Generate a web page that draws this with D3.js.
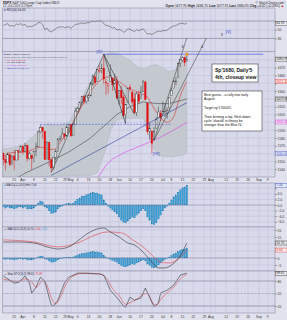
<!DOCTYPE html>
<html><head><meta charset="utf-8">
<script src="https://cdn.jsdelivr.net/npm/d3@7"></script>
<style>
html,body{margin:0;padding:0;background:#e2e2ee;}
svg{display:block;font-family:"Liberation Sans","DejaVu Sans",sans-serif;}
</style></head><body>
<script>
// ---- data (SPX daily, 18 Mar - 17 Jul 2013) ----
var opens  = [1560.7,1552.1,1548.3,1558.7,1545.9,1556.9,1551.7,1563.8,1562.9,1569.2,1562.2,1570.3,1553.7,1558.0,1553.3,1563.1,1568.6,1587.7,1593.3,1588.8,1552.6,1574.6,1552.0,1541.6,1555.3,1562.5,1578.8,1578.9,1585.2,1582.3,1593.6,1597.6,1582.8,1597.6,1614.4,1617.6,1625.5,1632.7,1626.7,1632.1,1633.8,1649.1,1658.1,1652.6,1665.7,1666.2,1669.4,1651.6,1646.7,1652.6,1656.6,1649.1,1652.1,1631.7,1640.7,1632.4,1609.9,1625.3,1644.7,1638.6,1629.9,1612.2,1635.5,1630.6,1639.8,1651.8,1624.6,1588.6,1588.8,1577.5,1592.3,1606.4,1611.1,1609.8,1614.3,1611.5,1618.7,1634.2,1642.9,1652.9,1657.4,1675.3,1679.6,1682.7,1677.9];
var highs  = [1560.7,1557.3,1561.6,1558.7,1557.7,1564.9,1563.9,1564.1,1570.3,1570.6,1573.7,1571.5,1562.3,1558.0,1563.1,1573.9,1589.1,1597.4,1593.3,1588.8,1575.4,1574.6,1554.4,1555.9,1565.6,1579.6,1583.0,1592.6,1585.8,1596.7,1597.6,1597.6,1598.6,1618.5,1619.8,1626.0,1632.8,1635.0,1633.7,1636.0,1651.1,1661.5,1660.5,1667.5,1672.8,1674.9,1687.2,1655.5,1649.8,1674.2,1656.6,1661.9,1659.0,1640.4,1646.5,1635.5,1622.6,1644.4,1648.7,1640.1,1637.7,1639.3,1640.8,1646.5,1654.2,1652.5,1624.6,1599.2,1588.8,1593.8,1606.8,1620.1,1615.9,1626.6,1624.3,1619.0,1632.1,1644.7,1654.2,1657.9,1676.6,1680.2,1684.5,1683.7,1684.8];
var lows   = [1545.1,1538.6,1548.3,1543.6,1545.9,1538.6,1551.7,1551.5,1561.1,1558.5,1562.2,1549.8,1552.4,1539.5,1548.6,1556.4,1568.6,1586.2,1579.0,1552.3,1552.6,1543.7,1536.0,1539.4,1548.2,1562.5,1575.8,1578.9,1577.6,1582.3,1586.5,1581.3,1582.8,1597.6,1614.2,1616.6,1622.7,1623.1,1623.7,1626.7,1633.8,1646.7,1648.6,1652.5,1663.5,1662.7,1648.9,1635.5,1636.9,1652.6,1640.1,1649.1,1630.7,1622.7,1623.6,1608.1,1598.2,1625.3,1639.3,1622.9,1610.9,1608.1,1624.0,1630.3,1639.8,1628.9,1584.3,1577.7,1560.3,1577.1,1592.3,1606.4,1601.3,1609.8,1606.8,1604.6,1614.7,1634.2,1642.9,1647.7,1657.4,1670.6,1677.9,1671.8,1677.9];
var closes = [1552.1,1548.3,1558.7,1545.8,1556.9,1551.7,1563.8,1563.0,1569.2,1562.2,1570.3,1553.7,1560.0,1553.3,1563.1,1568.6,1587.7,1593.4,1588.9,1552.4,1574.6,1552.0,1541.6,1555.3,1562.5,1578.8,1578.8,1585.2,1582.2,1593.6,1597.6,1582.7,1597.6,1614.4,1617.5,1626.0,1632.7,1626.7,1633.7,1633.8,1650.3,1658.8,1650.5,1667.5,1666.3,1669.2,1655.4,1650.5,1649.6,1660.1,1648.4,1654.4,1630.7,1640.4,1631.4,1608.9,1622.6,1643.4,1642.8,1626.1,1612.5,1636.4,1626.7,1639.0,1651.8,1628.9,1588.2,1592.4,1573.1,1588.0,1603.3,1613.2,1606.3,1614.1,1614.1,1615.4,1631.9,1640.5,1652.3,1652.6,1675.0,1680.2,1682.5,1676.3,1680.9];

var maFast = [["3/18",1556],["3/21",1561],["4/2",1562],["4/11",1568],["4/19",1565],["4/25",1578],["5/2",1600],["5/10",1631],["5/17",1650],["5/24",1658],["5/31",1654],["6/7",1644],["6/14",1638],["6/20",1632],["6/25",1618],["6/28",1606],["7/3",1600],["7/9",1607],["7/11",1625],["7/15",1641],["7/17",1652]];
var ma50 = [["3/18",1518],["4/2",1535],["4/16",1548],["4/30",1562],["5/14",1580],["5/22",1595],["5/31",1610],["6/10",1620],["6/18",1626],["6/26",1624],["7/5",1624],["7/17",1630]];
var ma100 = [["5/14",1522],["5/20",1532],["5/23",1545],["5/29",1553],["6/6",1562],["6/17",1570],["6/28",1581],["7/9",1590],["7/17",1600]];
var bbUpper = [["3/18",1566],["3/25",1568],["4/2",1573],["4/9",1585],["4/11",1594],["4/16",1598],["4/23",1596],["4/30",1600],["5/3",1615],["5/8",1632],["5/14",1652],["5/17",1670],["5/22",1684],["5/28",1690],["5/31",1688],["6/5",1684],["6/10",1680],["6/13",1672],["6/18",1668],["6/21",1672],["6/26",1674],["7/1",1670],["7/5",1665],["7/10",1668],["7/15",1680],["7/17",1688]];
var bbLower = [["3/18",1515],["4/2",1528],["4/16",1530],["4/30",1532],["5/14",1532],["5/17",1535],["5/21",1550],["5/23",1566],["5/28",1590],["5/31",1603],["6/5",1605],["6/10",1605],["6/13",1605],["6/18",1606],["6/21",1580],["6/25",1565],["6/27",1558],["7/2",1556],["7/9",1556],["7/15",1558],["7/17",1560]];

var rsiVals = [60,62,64,58,60,58,63,62,64,60,62,56,58,57,60,62,66,67,62,50,54,47,45,49,52,56,56,57,55,56,57,53,58,62,63,64,66,64,66,66,68,70,68,70,70,70,64,60,59,57,54,55,49,51,49,44,47,52,51,48,46,50,48,50,52,46,40,41,39,42,45,47,46,48,48,49,53,56,59,59,63,64,65,63,65];
var macdHist = [-0.7,-1.1,-0.7,-1.1,-1.1,-1.4,-1.1,-0.7,-0.7,-1.1,-0.7,-1.4,-1.4,-1.4,-1.1,-0.4,0.7,1.4,1.1,-0.7,-1.1,-2.1,-2.9,-2.9,-2.5,-1.4,-0.7,-0.4,0.1,0.4,0.7,0.4,0.7,1.4,2.1,2.5,3.2,3.2,3.6,3.9,4.3,4.6,4.3,4.3,3.9,3.6,1.8,0.7,-0.4,-1.1,-1.8,-2.5,-3.2,-4.3,-5.4,-6.1,-6.4,-5.7,-5.0,-4.3,-4.6,-3.6,-2.9,-2.1,-1.4,-2.1,-4.3,-5.4,-6.8,-7.1,-6.4,-5.0,-3.6,-2.1,-1.1,-0.4,0.7,1.8,2.9,3.6,4.6,5.4,6.1,6.4,7.1];
var macdLine = [["3/18",11.4],["3/28",11.4],["4/8",10.7],["4/18",7.1],["4/23",6.4],["4/30",7.9],["5/6",12.1],["5/13",17.9],["5/17",20.7],["5/22",21.4],["5/28",18.6],["6/3",15],["6/7",10.7],["6/12",9.3],["6/17",5.7],["6/20",0.7],["6/24",-2.9],["6/27",-7.1],["7/2",-7.1],["7/8",-5],["7/11",-0.7],["7/15",4.3],["7/17",10.7]];
var macdSignal = [["3/18",12.9],["4/8",11.4],["4/23",7.9],["5/6",10.7],["5/16",16.4],["5/24",18.6],["6/4",17.9],["6/12",12.1],["6/18",7.9],["6/24",2.1],["6/28",-2.9],["7/5",-3.6],["7/11",-0.7],["7/17",5.7]];
var stoK = [["3/18",92],["3/25",75],["3/27",77],["4/2",92],["4/4",75],["4/5",51],["4/9",65],["4/11",89],["4/15",80],["4/17",40],["4/18",22],["4/19",20],["4/23",34],["4/26",75],["4/30",89],["5/6",99],["5/10",99],["5/20",97],["5/22",94],["5/28",58],["5/30",46],["6/3",34],["6/5",20],["6/6",17],["6/10",41],["6/12",34],["6/17",39],["6/19",63],["6/21",41],["6/25",18],["6/27",27],["6/28",51],["7/3",58],["7/9",70],["7/12",94],["7/17",99]];
var stoD = [["3/18",85],["3/22",80],["3/27",78],["4/2",85],["4/5",78],["4/9",65],["4/12",80],["4/16",70],["4/18",40],["4/22",25],["4/24",40],["4/29",75],["5/2",92],["5/8",98],["5/20",97],["5/23",88],["5/29",62],["6/3",45],["6/6",24],["6/10",28],["6/13",36],["6/18",48],["6/20",50],["6/24",30],["6/26",22],["6/28",35],["7/3",52],["7/9",65],["7/12",85],["7/17",96]];

var tickDates  = ["3/25","4/1","4/8","4/15","4/22","4/29","5/1","5/6","5/13","5/20","5/28","6/3","6/10","6/17","6/24","7/1","7/8","7/15","7/22","7/29","8/1","8/5","8/12","8/19","8/26","9/3","9/9"];
var tickLabels = ["25","Apr","8","15","22","29","May","6","13","20","28","Jun","10","17","24","Jul","8","15","22","29","Aug","","12","19","26","Sep","9"];
var priceTicks = [1540,1550,1560,1570,1580,1590,1600,1610,1620,1630,1640,1650,1660,1670,1680];

// drawn annotations (date, price)
var trendLines = [
  {a:["4/18",1536], b:["5/22",1687.2], c:"#333", w:0.5},
  {a:["5/22",1687.2], b:["6/6",1598.2], c:"#222", w:0.6},
  {a:["5/22",1687.2], b:["6/12",1610], c:"#222", w:0.5},
  {a:["4/18",1532], b:["7/17",1625], c:"#3040a0", w:0.6},
  {a:["6/25",1577], b:["7/17",1708], c:"#333", w:0.5},
  {a:["6/25",1577], b:["7/30",1708], c:"#333", w:0.5}
];
var waveLabels = [
  {t:"[III]", d:"5/20", p:1688.5, c:"#3344cc", s:4.2},
  {t:"[IV]", d:"6/26", p:1558, c:"#3344cc", s:4.2},
  {t:"[V]", d:"8/13", p:1714, c:"#3344cc", s:4.2},
  {t:"3", d:"8/8", p:1710, c:"#222", s:3.6},
  {t:"3", d:"7/15", p:1694.5, c:"#222", s:3.6},
  {t:"4", d:"7/26", p:1694.5, c:"#222", s:3.6}
];

// ---- layout ----
var W = 287, H = 320, L = 2.5, R = 275;
var holidays = ["2013-03-29","2013-05-27","2013-07-04","2013-09-02"];
var iso = d3.timeFormat("%Y-%m-%d"), md = d3.timeFormat("%-m/%-d");
var days = d3.timeDay.range(new Date(2013,2,18), new Date(2013,8,13))
  .filter(function(d){ return d.getDay() % 6 !== 0 && holidays.indexOf(iso(d)) < 0; })
  .map(md);

var x = d3.scaleBand().domain(days).range([L, R]).paddingInner(0.3);
function cx(d){ return x(d) + x.bandwidth()/2; }

var P = {rsi:[8,51.5], price:[51.5,177], hist:[183,227], macd:[227,271], sto:[271,313]};
var yRsi = d3.scaleLinear().domain([0,100]).range([P.rsi[1], P.rsi[0]]);
var yP = d3.scaleLinear().domain([1530,1690]).range([177,52]);
var yH = d3.scaleLinear().domain([-7.86,7.86]).range([227,183]);
var yM = d3.scaleLinear().domain([-9.3,22.1]).range([271,227]);
var yS = d3.scaleLinear().domain([0,100]).range([314.3,272.7]);

var svg = d3.select("body").append("svg").attr("width",W).attr("height",H);
svg.append("rect").attr("width",W).attr("height",H).attr("fill","#e2e2ee");
var defs = svg.append("defs");

var PANEL = "#d9d9ec", GRID = "#c3c3da", BORDER = "#8f8fa8";

// boxVals: current values shown in boxes; tick labels too close to them are hidden
function panel(name, y, ticks, fmt, boxVals) {
  var top = P[name][0], bot = P[name][1];
  var g = svg.append("g");
  defs.append("clipPath").attr("id","clip-"+name).append("rect")
    .attr("x",L).attr("y",top).attr("width",R-L).attr("height",bot-top);
  g.append("rect").attr("x",L).attr("y",top).attr("width",R-L).attr("height",bot-top).attr("fill",PANEL);
  g.selectAll(null).data(tickDates).join("line")
    .attr("x1",cx).attr("x2",cx).attr("y1",top).attr("y2",bot)
    .attr("stroke",GRID).attr("stroke-width",0.6);
  g.selectAll(null).data(ticks).join("line")
    .attr("x1",L).attr("x2",R).attr("y1",y).attr("y2",y)
    .attr("stroke",GRID).attr("stroke-width",0.6);
  var ax = d3.axisRight(y).tickValues(ticks).tickSize(1.5).tickFormat(fmt);
  g.append("g").attr("transform","translate("+R+",0)").call(ax)
    .call(function(s){ s.select(".domain").remove(); s.selectAll("line").attr("stroke","#777"); })
    .call(function(s){ s.selectAll("text").attr("font-size",3.4).attr("fill","#333").attr("x",2.5)
      .style("display", function(d){
        return boxVals.some(function(b){ return Math.abs(y(b)-y(d)) < 4.4; }) ? "none" : null; }); });
  var inner = g.append("g").attr("clip-path","url(#clip-"+name+")");
  return {g:g, inner:inner, top:top, bot:bot};
}
function border(pn){
  svg.append("rect").attr("x",L).attr("y",pn.top).attr("width",R-L).attr("height",pn.bot-pn.top)
    .attr("fill","none").attr("stroke",BORDER).attr("stroke-width",0.6);
}
function lineOf(y){ return d3.line().x(function(p){return cx(p[0]);}).y(function(p){return y(p[1]);}); }
function valueBox(y, v, txt, col, bg){
  svg.append("rect").attr("x",R+0.5).attr("y",y(v)-2).attr("width",11.5).attr("height",4)
    .attr("fill",bg).attr("stroke",col).attr("stroke-width",0.4);
  svg.append("text").attr("x",R+1.2).attr("y",y(v)+1.2).attr("font-size",3.3).attr("fill",col).text(txt);
}

// ---- header ----
var hd = svg.append("g").attr("font-size",3.3).attr("fill","#222");
hd.append("text").attr("x",3).attr("y",3.6).html('<tspan font-weight="bold">$SPX</tspan> S&amp;P 500 Large Cap Index  INDX');
hd.append("text").attr("x",3).attr("y",7.4).attr("fill","#444").text("17-Jul-2013 4:29pm");
hd.append("text").attr("x",284).attr("y",3.6).attr("text-anchor","end").text("© StockCharts.com");
hd.append("text").attr("x",284).attr("y",7.4).attr("text-anchor","end")
  .html('<tspan font-weight="bold">Open</tspan> 1677.91 <tspan font-weight="bold">High</tspan> 1684.75 <tspan font-weight="bold">Low</tspan> 1677.91 <tspan font-weight="bold">Last</tspan> 1680.91 <tspan font-weight="bold">Chg</tspan> +4.62 (+0.28%) <tspan fill="#d00">▲</tspan>');

// ---- RSI ----
var rsiLast = rsiVals[rsiVals.length-1];
var pr = panel("rsi", yRsi, [30,50,70], d3.format("d"), [rsiLast]);
[30,70].forEach(function(v){
  pr.g.append("line").attr("x1",L).attr("x2",R).attr("y1",yRsi(v)).attr("y2",yRsi(v)).attr("stroke","#9c9cb4").attr("stroke-width",0.9);
});
pr.inner.append("path").datum(rsiVals.map(function(v,i){return [days[i],v];}))
  .attr("d",lineOf(yRsi)).attr("fill","none").attr("stroke","#555").attr("stroke-width",0.6);
svg.append("text").attr("x",4).attr("y",11).attr("font-size",3).attr("fill","#223")
  .html('<tspan fill="#4060c0">■</tspan> RSI(14) 64.93');
border(pr);
valueBox(yRsi, rsiLast, "64.93", "#333", "#eee");

// ---- price ----
var priceBoxes = [1680.91, 1652.42, 1629.86, 1600.41, 1560.02];
var pp = panel("price", yP, priceTicks, d3.format("d"), priceBoxes);
var bandPts = bbUpper.map(function(p){return [cx(p[0]), yP(p[1])];})
  .concat(bbLower.slice().reverse().map(function(p){return [cx(p[0]), yP(p[1])];}));
pp.inner.append("path").attr("d","M"+bandPts.join("L")+"Z").attr("fill","#c3c9cf").attr("stroke","#a9b0b8").attr("stroke-width",0.4);

pp.inner.append("path").datum(ma100).attr("d",lineOf(yP)).attr("fill","none").attr("stroke","#e040e0").attr("stroke-width",0.6);
pp.inner.append("path").datum(ma50).attr("d",lineOf(yP)).attr("fill","none").attr("stroke","#333").attr("stroke-width",0.5);
pp.inner.append("path").datum(maFast).attr("d",lineOf(yP).curve(d3.curveMonotoneX)).attr("fill","none").attr("stroke","#e03030").attr("stroke-width",0.6);

var candles = closes.map(function(c,i){
  return {d:days[i], o:opens[i], h:highs[i], l:lows[i], c:c, pc: i ? closes[i-1] : opens[i]};
});
function ccol(k){ return k.c < k.pc ? "#e01010" : "#303030"; }
pp.inner.selectAll(null).data(candles).join("line")
  .attr("x1",function(k){return cx(k.d);}).attr("x2",function(k){return cx(k.d);})
  .attr("y1",function(k){return yP(k.h);}).attr("y2",function(k){return yP(k.l);})
  .attr("stroke",ccol).attr("stroke-width",0.5);
pp.inner.selectAll(null).data(candles).join("rect")
  .attr("x",function(k){return x(k.d);}).attr("width",x.bandwidth())
  .attr("y",function(k){return yP(Math.max(k.o,k.c));})
  .attr("height",function(k){return Math.max(0.6, Math.abs(yP(k.o)-yP(k.c)));})
  .attr("fill",function(k){return k.c < k.o ? ccol(k) : "#f2f2f6";})
  .attr("stroke",ccol).attr("stroke-width",0.4);

// horizontal levels
pp.g.append("line").attr("x1",cx("5/22")).attr("x2",cx("9/5")).attr("y1",yP(1687.2)).attr("y2",yP(1687.2))
  .attr("stroke","#5a6ae0").attr("stroke-width",0.8);
pp.g.append("line").attr("x1",cx("4/11")).attr("x2",cx("7/8")).attr("y1",yP(1597.4)).attr("y2",yP(1597.4))
  .attr("stroke","#5a6ae0").attr("stroke-width",0.7).attr("stroke-dasharray","2,1.2");

var ann = svg.append("g");
trendLines.forEach(function(t){
  ann.append("line").attr("x1",cx(t.a[0])).attr("y1",yP(t.a[1])).attr("x2",cx(t.b[0])).attr("y2",yP(t.b[1]))
    .attr("stroke",t.c).attr("stroke-width",t.w);
});
waveLabels.forEach(function(w){
  ann.append("text").attr("x",cx(w.d)).attr("y",yP(w.p)).attr("text-anchor","middle")
    .attr("font-size",w.s).attr("fill",w.c).text(w.t);
});
ann.append("circle").attr("cx",cx("7/17")).attr("cy",yP(1687)).attr("r",1.3)
  .attr("fill","#f2c21a").attr("stroke","#e03a10").attr("stroke-width",0.4);

var lg = svg.append("g").attr("font-size",2.5).attr("fill","#222");
var lgRows = [
  ['<tspan fill="#4060c0">■</tspan> $SPX (Daily) 1680.91', "#222"],
  ['Open 1677.91 High 1684.75 Low 1677.91 Close 1680.91', "#555"],
  ['— MA(10) 1652.42', "#e03030"],
  ['— MA(50) 1629.86', "#222"],
  ['— MA(100) 1600.41', "#e040e0"],
  ['— BB(20,2.0) 1624.10', "#4050c0"]
];
lgRows.forEach(function(r,i){
  lg.append("text").attr("x",4).attr("y",55.3+i*2.7).attr("fill",r[1]).html(r[0]);
});
border(pp);
valueBox(yP, 1680.91, "1680.91", "#222", "#f4f4f4");
valueBox(yP, 1652.42, "1652.42", "#e03030", "#fbeaea");
valueBox(yP, 1629.86, "1629.86", "#222", "#eee");
valueBox(yP, 1600.41, "1600.41", "#d030d0", "#f8e8f8");
valueBox(yP, 1560.02, "1560.02", "#4050c0", "#e8eaf8");

// x labels ("29" and "May" written together as "29May", as on the chart)
function xLabels(yy){
  var c29 = cx("4/29");
  svg.append("g").selectAll(null).data(tickDates).join("text")
    .attr("x",function(d){ return d === "4/29" ? c29 + 0.3 : d === "5/1" ? c29 + 0.8 : cx(d); })
    .attr("y",yy).attr("font-size",3.3).attr("fill","#333")
    .attr("text-anchor",function(d){ return d === "4/29" ? "end" : d === "5/1" ? "start" : "middle"; })
    .text(function(d,i){return tickLabels[i];});
}
xLabels(181.2);

// ---- MACD histogram ----
var ph = panel("hist", yH, [-6,-4,-2,0,2,4,6], d3.format(".1f"), [7.06]);
ph.inner.selectAll(null).data(macdHist).join("rect")
  .attr("x",function(v,i){return x(days[i]);}).attr("width",x.bandwidth())
  .attr("y",function(v){return yH(Math.max(0,v));})
  .attr("height",function(v){return Math.abs(yH(v)-yH(0));})
  .attr("fill","#3aa0d8").attr("stroke","#1f6f9f").attr("stroke-width",0.25);
ph.g.append("line").attr("x1",L).attr("x2",R).attr("y1",yH(0)).attr("y2",yH(0)).attr("stroke","#8a8aa4").attr("stroke-width",0.5);
svg.append("text").attr("x",4).attr("y",186).attr("font-size",2.7).attr("fill","#223")
  .html('<tspan fill="#3aa0d8">■</tspan> MACD(12,26,9) Hist 7.06');
border(ph);
valueBox(yH, 7.06, "7.06", "#3050c0", "#e6ecfa");

// ---- MACD lines ----
var pm = panel("macd", yM, [-5,0,5,10,15,20], d3.format("d"), [10.7, 5.64]);
pm.inner.selectAll(null).data(macdHist).join("rect")
  .attr("x",function(v,i){return x(days[i]);}).attr("width",x.bandwidth())
  .attr("y",function(v){return yM(Math.max(0,v));})
  .attr("height",function(v){return Math.abs(yM(v)-yM(0));})
  .attr("fill","#3aa0d8").attr("stroke","#1f6f9f").attr("stroke-width",0.25);
pm.g.append("line").attr("x1",L).attr("x2",R).attr("y1",yM(0)).attr("y2",yM(0)).attr("stroke","#8a8aa4").attr("stroke-width",0.5);
pm.inner.append("path").datum(macdSignal).attr("d",lineOf(yM).curve(d3.curveMonotoneX)).attr("fill","none").attr("stroke","#e04040").attr("stroke-width",0.6);
pm.inner.append("path").datum(macdLine).attr("d",lineOf(yM).curve(d3.curveMonotoneX)).attr("fill","none").attr("stroke","#333").attr("stroke-width",0.6);
svg.append("text").attr("x",4).attr("y",230).attr("font-size",2.7).attr("fill","#223")
  .html('— MACD(12,26,9) 10.70, <tspan fill="#e04040">5.64</tspan>, <tspan fill="#3aa0d8">5.06</tspan>');
border(pm);
valueBox(yM, 10.7, "10.70", "#222", "#eee");
valueBox(yM, 5.64, "5.64", "#e04040", "#fbeaea");

// ---- Slow stochastic ----
var ps = panel("sto", yS, [20,50,80], d3.format("d"), [98.61]);
[20,80].forEach(function(v){
  ps.g.append("line").attr("x1",L).attr("x2",R).attr("y1",yS(v)).attr("y2",yS(v)).attr("stroke","#9c9cb4").attr("stroke-width",0.9);
});
ps.g.append("line").attr("x1",L).attr("x2",R).attr("y1",yS(50)).attr("y2",yS(50)).attr("stroke","#9c9cb4").attr("stroke-width",0.6).attr("stroke-dasharray","2,1.5");
ps.inner.append("path").datum(stoD).attr("d",lineOf(yS).curve(d3.curveMonotoneX)).attr("fill","none").attr("stroke","#e05050").attr("stroke-width",0.6);
ps.inner.append("path").datum(stoK).attr("d",lineOf(yS)).attr("fill","none").attr("stroke","#333").attr("stroke-width",0.6);
svg.append("text").attr("x",4).attr("y",274.5).attr("font-size",2.7).attr("fill","#223")
  .html('— Slow STO(14,3) 98.61, <tspan fill="#e05050">95.88</tspan>');
border(ps);
valueBox(yS, 98.61, "98.61", "#222", "#eee");
xLabels(317.5);

// ---- text notes ----
var n1 = svg.append("g");
n1.append("rect").attr("x",212).attr("y",64).attr("width",46).attr("height",18).attr("fill","#fff").attr("stroke","#222").attr("stroke-width",0.5);
n1.append("text").attr("x",215).attr("y",71.5).attr("font-size",5).attr("font-weight","bold").attr("fill","#111").text("Sp'1680, Daily'5");
n1.append("text").attr("x",215).attr("y",78.5).attr("font-size",5).attr("font-weight","bold").attr("fill","#111").text("4th, closeup view");

var noteLines = ["Best guess... a rally into early","August.","","Target sp'1700/05.","","Then forming a top. Next down","cycle 'should' in theory be","stronger than the Blue IV."];
var n2 = svg.append("g");
n2.append("rect").attr("x",202).attr("y",91).attr("width",60).attr("height",40).attr("fill","#fff").attr("stroke","#222").attr("stroke-width",0.5);
noteLines.forEach(function(t,i){
  n2.append("text").attr("x",204).attr("y",96+i*4.3).attr("font-size",3.4).attr("fill","#111").text(t);
});
</script>
</body></html>
